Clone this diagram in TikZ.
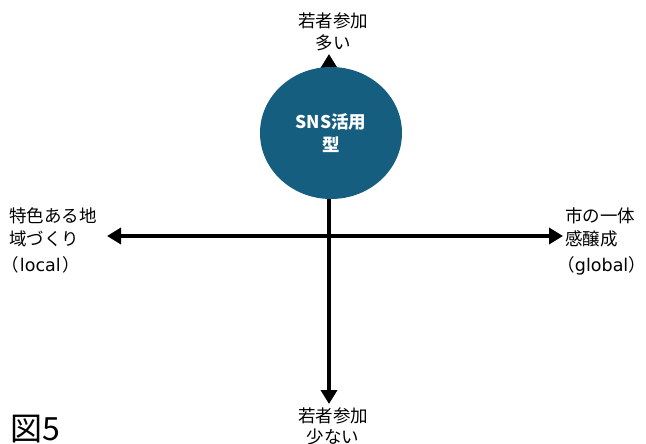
\documentclass[tikz,border=0pt]{standalone}
\usepackage{fontspec}
\setmainfont{Noto Sans CJK JP}
\newfontfamily\pfont[RawFeature=+palt]{Noto Sans CJK JP}
\newfontfamily\latfont{DejaVu Sans}
\usetikzlibrary{arrows.meta,shapes.geometric}
\definecolor{circblue}{RGB}{22,94,127}
\begin{document}
\begin{tikzpicture}[x=1pt,y=-1pt,
  axis/.style={line width=4pt,-{Triangle[width=16pt,length=14pt]}},
  lbl/.style={inner sep=0pt,font=\fontsize{17.5}{22.5}\selectfont},
  ]
\useasboundingbox (0,0) rectangle (646,444);
\coordinate (n) at (329,54);
\coordinate (s) at (329,404);
\coordinate (w) at (107,236);
\coordinate (e) at (563,236);
\coordinate (o) at (329,236);
\draw[axis] (o) -- (n);
\draw[axis] (o) -- (s);
\draw[axis] (o) -- (w);
\draw[axis] (o) -- (e);
\node[ellipse,fill=circblue,draw=none,minimum width=142pt,minimum height=132pt,inner sep=0pt,
  text=white,align=center,font=\fontsize{17.5}{22.5}\selectfont\bfseries] (c) at (331,133)
  {SNS活用\\型};
\node[lbl,align=center] (ttop) at (333,32) {若者参加\\多い};
\node[lbl,align=center,anchor=north,font=\fontsize{17.5}{20.5}\selectfont] (tbot) at (333,408) {若者参加\\少ない};
\node[lbl,align=left,anchor=north west] (tl) at (9,208) {特色ある地\\域づくり\\[4pt]{\pfont （\kern2pt{\latfont local}\kern2pt）}};
\node[lbl,align=left,anchor=north west] (tr) at (565,208) {市の一体\\感醸成\\[4pt]{\pfont （\kern1pt{\latfont global}\kern0.5pt）}};
\node[inner sep=0pt,anchor=south west,font=\fontsize{32}{32}\selectfont] (fig) at (10,443) {図5};
\end{tikzpicture}
\end{document}
